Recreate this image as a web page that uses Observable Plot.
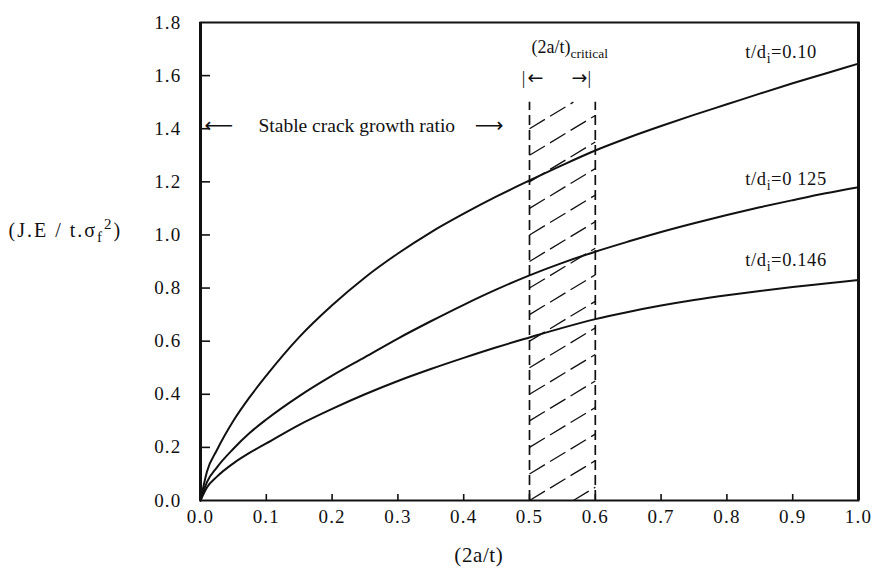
<!DOCTYPE html>
<html><head><meta charset="utf-8">
<script src="https://cdn.jsdelivr.net/npm/d3@7"></script>
<script src="https://cdn.jsdelivr.net/npm/@observablehq/plot@0.6"></script>
<style>
html,body{margin:0;padding:0;background:#fff;}
#chart svg{font-family:"Liberation Serif","Times New Roman",serif;}
#chart svg g[aria-label="x-axis tick label"] text,
#chart svg g[aria-label="y-axis tick label"] text{letter-spacing:1.2px;}
#chart svg g.ylab text{letter-spacing:2px;}
#chart svg g.wide text{letter-spacing:0.6px;}
</style></head><body><div id="chart"></div>
<script>
// ---- data ----
const xValues   = [0, 0.01, 0.025, 0.05, 0.075, 0.1, 0.15, 0.2, 0.25, 0.3, 0.35, 0.4, 0.45, 0.5, 0.55, 0.6, 0.65, 0.7, 0.75, 0.8, 0.85, 0.9, 0.95, 1.0];
const curve010  = [0, 0.11, 0.19, 0.30, 0.39, 0.47, 0.615, 0.735, 0.84, 0.93, 1.01, 1.08, 1.145, 1.205, 1.263, 1.318, 1.366, 1.41, 1.452, 1.492, 1.532, 1.571, 1.608, 1.645];
const curve0125 = [0, 0.07, 0.125, 0.195, 0.255, 0.305, 0.393, 0.47, 0.54, 0.61, 0.675, 0.737, 0.795, 0.848, 0.895, 0.937, 0.975, 1.011, 1.044, 1.075, 1.104, 1.131, 1.157, 1.18];
const curve0146 = [0, 0.05, 0.09, 0.14, 0.18, 0.215, 0.285, 0.345, 0.40, 0.45, 0.495, 0.537, 0.577, 0.614, 0.65, 0.683, 0.71, 0.734, 0.755, 0.773, 0.789, 0.804, 0.817, 0.83];
const seriesLabels = ["t/d_{i}=0.10", "t/d_{i}=0 125", "t/d_{i}=0.146"];
const xTicks = [0, 0.1, 0.2, 0.3, 0.4, 0.5, 0.6, 0.7, 0.8, 0.9, 1.0];
const yTicks = [0, 0.2, 0.4, 0.6, 0.8, 1.0, 1.2, 1.4, 1.6, 1.8];
const criticalRange = [0.5, 0.6];
const hatchTop = 1.5;
const hatchStarts = [-0.1, 0, 0.1, 0.2, 0.3, 0.4, 0.5, 0.6, 0.7, 0.8, 0.9, 1.0, 1.1, 1.2, 1.3, 1.4];
const hatchRise = 0.15;
const xLabel = "(2a/t)";
const yLabel = "(J.E / t.σ_{f}^{2})";
const criticalLabel = "(2a/t)_{critical}";
const stableLabel = "Stable crack growth ratio";

// ---- build tables ----
const curves = [curve010, curve0125, curve0146];
const rows = curves.flatMap((c, s) => xValues.map((x, i) => ({x, y: c[i], s: seriesLabels[s]})));

const [hx0, hx1] = criticalRange;
const hatch = hatchStarts.map(y0 => {
  let xa = hx0, ya = y0, xb = hx1, yb = y0 + hatchRise;
  const slope = hatchRise / (hx1 - hx0);
  if (ya < 0) { xa = hx0 + (0 - y0) / slope; ya = 0; }
  if (yb > hatchTop) { xb = hx0 + (hatchTop - y0) / slope; yb = hatchTop; }
  return {x1: xa, y1: ya, x2: xb, y2: yb};
}).filter(d => d.x2 > d.x1);

const W = 875, H = 579, mL = 200, mR = 17, mT = 22, mB = 79;
const innerW = W - mL - mR, innerH = H - mT - mB;
const fmt = d3.format(".1f");
const FF = '"Liberation Serif","Times New Roman",serif';
const AF = '"DejaVu Sans",sans-serif';
const ink = "#111";

const plot = Plot.plot({
  width: W, height: H,
  marginLeft: mL, marginRight: mR, marginTop: mT, marginBottom: mB,
  style: {fontFamily: FF, fontSize: "19px", background: "#fff", color: ink},
  x: {domain: [0, 1]},
  y: {domain: [0, 1.8]},
  marks: [
    // axes (labels only)
    Plot.axisX(xTicks, {tickSize: 0, tickPadding: 9, tickFormat: fmt, fontSize: 19, label: null}),
    Plot.axisY(yTicks, {tickSize: 0, tickPadding: 19, tickFormat: fmt, fontSize: 19, label: null}),
    // inward ticks
    Plot.tickY(yTicks.slice(1, -1), {y: d => d, insetRight: innerW - 10, stroke: ink, strokeWidth: 1.6}),
    Plot.tickX(xTicks.slice(1, -1), {x: d => d, insetTop: innerH - 6, stroke: ink, strokeWidth: 1.6}),
    // hatched critical zone
    Plot.ruleX(criticalRange, {y1: 0, y2: hatchTop, stroke: ink, strokeWidth: 1.7, strokeDasharray: "10,5"}),
    Plot.link(hatch, {x1: "x1", y1: "y1", x2: "x2", y2: "y2", stroke: ink, strokeWidth: 1.3, strokeDasharray: "18,6"}),
    // curves
    Plot.line(rows, {x: "x", y: "y", z: "s", curve: "monotone-x", stroke: ink, strokeWidth: 2}),
    // frame
    Plot.frame({stroke: ink, strokeWidth: 2}),
    Plot.ruleX([0], {stroke: ink, strokeWidth: 3}),
    Plot.ruleX([1], {stroke: ink, strokeWidth: 3}),
    // curve labels
    Plot.text([
      {t: seriesLabels[0], x: 0.828, y: 1.687},
      {t: seriesLabels[1], x: 0.828, y: 1.212},
      {t: seriesLabels[2], x: 0.828, y: 0.904}
    ], {x: "x", y: "y", text: "t", textAnchor: "start", lineAnchor: "middle", fontSize: 18.5, fontFamily: FF, fill: ink, className: "wide"}),
    // critical annotation
    Plot.text([{t: criticalLabel, x: 0.5, y: 1.705}], {x: "x", y: "y", text: "t", textAnchor: "start", lineAnchor: "middle", fontSize: 18, fontFamily: FF, dx: 2, fill: ink}),
    Plot.text([{t: "|", x: 0.5, y: 1.59}, {t: "|", x: 0.6, y: 1.59}], {x: "x", y: "y", text: "t", textAnchor: "middle", lineAnchor: "middle", fontSize: 18, fontFamily: FF, dx: -6, fill: ink}),
    Plot.text([{t: "←", x: 0.5, y: 1.59}], {x: "x", y: "y", text: "t", textAnchor: "start", lineAnchor: "middle", fontSize: 19, fontFamily: AF, dx: -2, fill: ink}),
    Plot.text([{t: "→", x: 0.6, y: 1.59}], {x: "x", y: "y", text: "t", textAnchor: "end", lineAnchor: "middle", fontSize: 19, fontFamily: AF, dx: -8, fill: ink}),
    // stable crack growth annotation
    Plot.text([{t: "⟵", x: 0, y: 1.412}], {x: "x", y: "y", text: "t", textAnchor: "start", lineAnchor: "middle", fontSize: 20, fontFamily: AF, dx: 4, fill: ink}),
    Plot.text([{t: stableLabel, x: 0, y: 1.412}], {x: "x", y: "y", text: "t", textAnchor: "start", lineAnchor: "middle", fontSize: 19.5, fontFamily: FF, dx: 58, fill: ink}),
    Plot.text([{t: "⟶", x: criticalRange[0], y: 1.412}], {x: "x", y: "y", text: "t", textAnchor: "end", lineAnchor: "middle", fontSize: 20, fontFamily: AF, dx: -26, fill: ink}),
    // axis titles
    Plot.text([{t: yLabel, y: 1.0}], {frameAnchor: "left", y: "y", text: "t", textAnchor: "start", lineAnchor: "middle", fontSize: 20, fontFamily: FF, dx: -192, dy: -4, fill: ink, className: "ylab"}),
    Plot.text([{t: xLabel, x: 0.423}], {frameAnchor: "bottom", x: "x", text: "t", textAnchor: "middle", lineAnchor: "middle", fontSize: 21, fontFamily: FF, dy: 55, fill: ink, className: "wide"})
  ]
});

// rich text: _{sub} and ^{sup}
d3.select(plot).selectAll("text").each(function() {
  const el = this;
  if (el.querySelector("tspan")) return;
  const s = el.textContent;
  if (!/[_^]\{/.test(s)) return;
  const parts = s.split(/([_^]\{[^}]*\})/).filter(p => p.length);
  el.textContent = "";
  let offset = 0;
  for (const p of parts) {
    const ts = document.createElementNS("http://www.w3.org/2000/svg", "tspan");
    let target = 0, txt = p, small = false;
    if (p.startsWith("_{")) { target = 5; txt = p.slice(2, -1); small = true; }
    else if (p.startsWith("^{")) { target = -8; txt = p.slice(2, -1); small = true; }
    ts.setAttribute("dy", target - offset);
    offset = target;
    if (small) ts.setAttribute("font-size", "75%");
    ts.textContent = txt;
    el.appendChild(ts);
  }
});

document.getElementById("chart").appendChild(plot);
</script>
</body></html>
